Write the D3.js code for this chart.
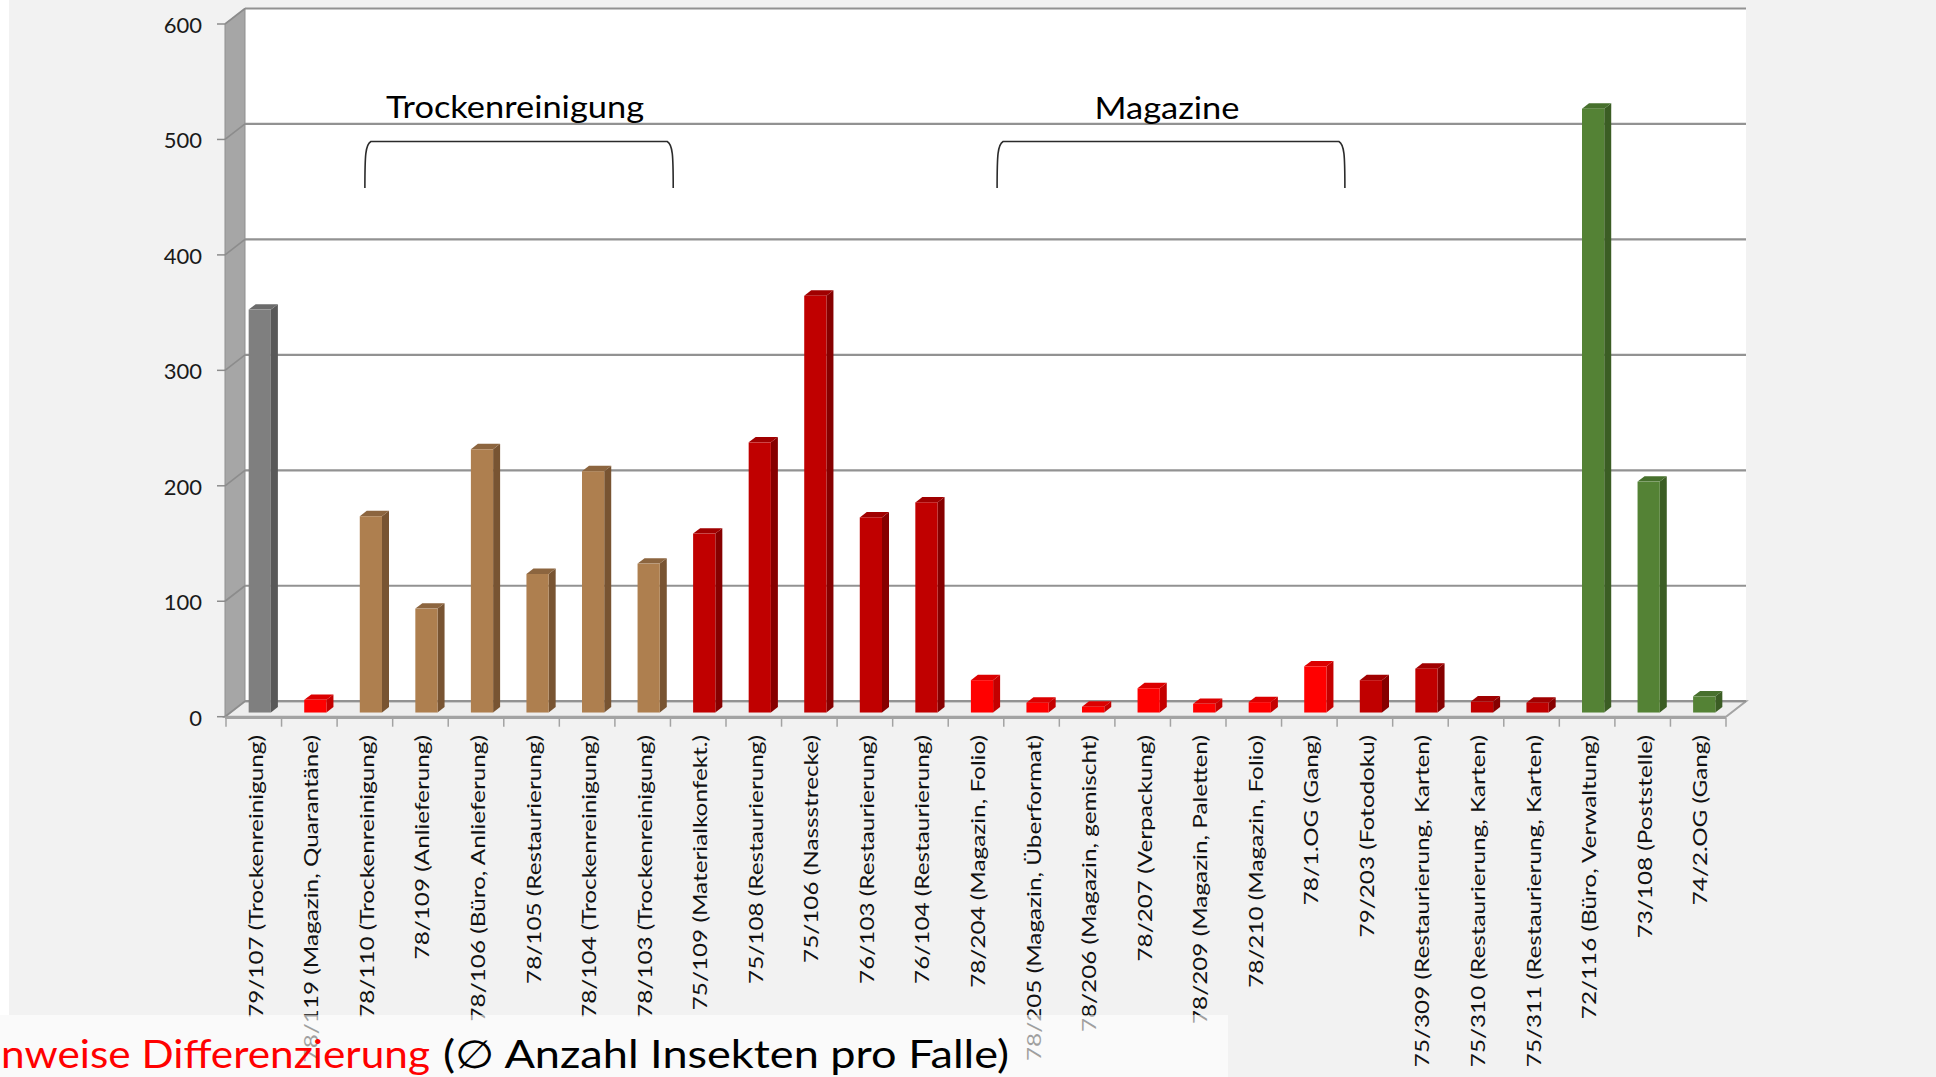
<!DOCTYPE html>
<html><head><meta charset="utf-8">
<script src="https://cdn.jsdelivr.net/npm/d3@7"></script>
<style>html,body{margin:0;padding:0;background:#f2f2f2;overflow:hidden}</style>
</head><body><svg id="c" width="1936" height="1077"></svg>
<script>
const categories = ["79/107 (Trockenreinigung)", "78/119 (Magazin, Quarantäne)", "78/110 (Trockenreinigung)", "78/109 (Anlieferung)", "78/106 (Büro, Anlieferung)", "78/105 (Restaurierung)", "78/104 (Trockenreinigung)", "78/103 (Trockenreinigung)", "75/109 (Materialkonfekt.)", "75/108 (Restaurierung)", "75/106 (Nassstrecke)", "76/103 (Restaurierung)", "76/104 (Restaurierung)", "78/204 (Magazin, Folio)", "78/205 (Magazin, Überformat)", "78/206 (Magazin, gemischt)", "78/207 (Verpackung)", "78/209 (Magazin, Paletten)", "78/210 (Magazin, Folio)", "78/1.OG (Gang)", "79/203 (Fotodoku)", "75/309 (Restaurierung, Karten)", "75/310 (Restaurierung, Karten)", "75/311 (Restaurierung, Karten)", "72/116 (Büro, Verwaltung)", "73/108 (Poststelle)", "74/2.OG (Gang)"];
const values = [349, 11, 170, 90, 228, 120, 209, 129, 155, 234, 361, 169, 182, 28, 8.5, 5, 21, 7.5, 9, 40, 28, 38, 9.5, 8.5, 523, 200, 14];
const colorGroups = ["grey", "red", "brown", "brown", "brown", "brown", "brown", "brown", "darkred", "darkred", "darkred", "darkred", "darkred", "red", "red", "red", "red", "red", "red", "red", "darkred", "darkred", "darkred", "darkred", "green", "green", "green"];
const yTicks = [0, 100, 200, 300, 400, 500, 600];
const groupLabels = ["Trockenreinigung", "Magazine"];
const groupSpanFrom = [2.5, 13.88];   // in category units
const groupSpanTo = [8.05, 20.14];
const captionRed = "nweise Differenzierung";
const captionBlack = "(\u2205 Anzahl Insekten pro Falle)";

const palette = {
  grey:    {front: "#7f7f7f", side: "#595959", top: "#6b6b6b"},
  red:     {front: "#ff0000", side: "#c40000", top: "#dc0000"},
  brown:   {front: "#ae7f4f", side: "#785432", top: "#8c653f"},
  darkred: {front: "#c00000", side: "#860000", top: "#a00000"},
  green:   {front: "#548235", side: "#3b5d24", top: "#47702d"}
};

const svg = d3.select("#c");
const FONT = "Lato, 'Open Sans', sans-serif";

// background
svg.append("rect").attr("width", 1936).attr("height", 1077).attr("fill", "#f2f2f2");
svg.append("rect").attr("x", 0).attr("y", 0).attr("width", 9).attr("height", 1015).attr("fill", "#ffffff");

const x = d3.scaleBand().domain(categories).range([226, 1726]).paddingInner(0).paddingOuter(0);
const xi = d3.scaleLinear().domain([0, categories.length]).range([226, 1726]);
const y = d3.scaleLinear().domain([0, 600]).range([716.7, 24]);
const DX = 20, DY = -15.5;
const fz = 0.27, bz = 0.62;
const x0 = 226 - 1, x1 = 1726;

// back wall
svg.append("polygon")
  .attr("points", [[x0 + DX, y(600) + DY], [x1 + DX, y(600) + DY], [x1 + DX, y(0) + DY], [x0 + DX, y(0) + DY]].join(" "))
  .attr("fill", "#ffffff");

// left wall
svg.append("polygon")
  .attr("points", [[x0, y(600)], [x0 + DX, y(600) + DY], [x0 + DX, y(0) + DY], [x0, y(0)]].join(" "))
  .attr("fill", "#a6a6a6").attr("stroke", "#8f8f8f").attr("stroke-width", 1);

// floor
svg.append("polygon")
  .attr("points", [[x0, y(0)], [x1, y(0)], [x1 + DX, y(0) + DY], [x0 + DX, y(0) + DY]].join(" "))
  .attr("fill", "#eeeeee").attr("stroke", "#a3a3a3").attr("stroke-width", 2);

// gridlines
const grid = svg.append("g");
yTicks.forEach(t => {
  grid.append("line").attr("x1", x0 + DX).attr("x2", x1 + DX)
    .attr("y1", y(t) + DY).attr("y2", y(t) + DY)
    .attr("stroke", "#929292").attr("stroke-width", 2.2);
  grid.append("line").attr("x1", x0).attr("x2", x0 + DX)
    .attr("y1", y(t)).attr("y2", y(t) + DY)
    .attr("stroke", "#8c8c8c").attr("stroke-width", 1.6);
});
// floor front edge
svg.append("line").attr("x1", x0).attr("x2", x1).attr("y1", y(0) + 1).attr("y2", y(0) + 1)
  .attr("stroke", "#a3a3a3").attr("stroke-width", 2.5);

// y axis ticks and labels
const yax = svg.append("g");
yTicks.forEach(t => {
  yax.append("line").attr("x1", 217).attr("x2", x0).attr("y1", y(t)).attr("y2", y(t))
    .attr("stroke", "#8c8c8c").attr("stroke-width", 1.5);
  yax.append("text").attr("x", 202).attr("y", y(t) + 1).attr("dy", "0.36em")
    .attr("text-anchor", "end").attr("font-family", FONT).attr("font-size", 22)
    .attr("fill", "#1a1a1a").text(t);
});

// x ticks
const xticks = d3.range(categories.length + 1);
svg.append("g").selectAll("line").data(xticks).join("line")
  .attr("x1", d => xi(d)).attr("x2", d => xi(d))
  .attr("y1", y(0) + 1).attr("y2", y(0) + 10)
  .attr("stroke", "#a3a3a3").attr("stroke-width", 1.5);

// bars
const bw = x.bandwidth() * 0.40;
const bdx = DX * (bz - fz), bdy = DY * (bz - fz);
const bars = svg.append("g");
categories.forEach((c, i) => {
  const col = palette[colorGroups[i]];
  const fx = x(c) + x.bandwidth() / 2 - bw / 2 + DX * fz + 0.6;
  const yt = y(values[i]) + DY * fz;
  const yb = y(0) + DY * fz;
  bars.append("polygon")
    .attr("points", [[fx + bw, yt], [fx + bw + bdx, yt + bdy], [fx + bw + bdx, yb + bdy], [fx + bw, yb]].join(" "))
    .attr("fill", col.side);
  bars.append("polygon")
    .attr("points", [[fx, yt], [fx + bdx, yt + bdy], [fx + bw + bdx, yt + bdy], [fx + bw, yt]].join(" "))
    .attr("fill", col.top);
  bars.append("rect").attr("x", fx).attr("y", yt).attr("width", bw).attr("height", yb - yt)
    .attr("fill", col.front);
});

// group brackets and labels
const labelTargets = [{w: 258, base: 118}, {w: 145, base: 119}];
groupLabels.forEach((g, i) => {
  const a = xi(groupSpanFrom[i]), b = xi(groupSpanTo[i]);
  const top = 141.5, bot = 188, r = 6;
  svg.append("path")
    .attr("d", `M${a},${bot} C${a},${top + 14} ${a + 0.5},${top + 3} ${a + r},${top} L${b - r},${top} C${b - 0.5},${top + 3} ${b},${top + 14} ${b},${bot}`)
    .attr("fill", "none").attr("stroke", "#2b2b2b").attr("stroke-width", 1.6);
  const cx = (a + b) / 2 - 4;
  svg.append("text").attr("x", cx - labelTargets[i].w / 2).attr("y", labelTargets[i].base)
    .attr("font-family", FONT).attr("font-size", 31).attr("fill", "#000")
    .attr("textLength", labelTargets[i].w).attr("lengthAdjust", "spacingAndGlyphs")
    .text(g);
});

// x labels (rotated)
const xl = svg.append("g");
const lab = xl.selectAll("text").data(categories).join("text")
  .attr("font-family", FONT).attr("font-size", 20).attr("fill", "#111")
  .attr("text-anchor", "end").text(d => d);
const refLen = lab.nodes()[0].getComputedTextLength();
const sx = 283 / refLen;
lab.attr("transform", d => `translate(${x(d) + x.bandwidth() / 2 + 9},735) rotate(-90) scale(${sx},1)`);

// caption box
svg.append("rect").attr("x", 0).attr("y", 1015).attr("width", 1228).attr("height", 62)
  .attr("fill", "#ffffff").attr("opacity", 0.6);

svg.append("text").attr("x", 443).attr("y", 1068)
  .attr("font-family", FONT).attr("font-size", 39).attr("fill", "#000")
  .attr("textLength", 566).attr("lengthAdjust", "spacingAndGlyphs")
  .text(captionBlack);
svg.append("text").attr("x", 1).attr("y", 1068)
  .attr("font-family", FONT).attr("font-size", 39).attr("fill", "#ff0000")
  .attr("textLength", 429).attr("lengthAdjust", "spacingAndGlyphs")
  .text(captionRed);
</script></body></html>
